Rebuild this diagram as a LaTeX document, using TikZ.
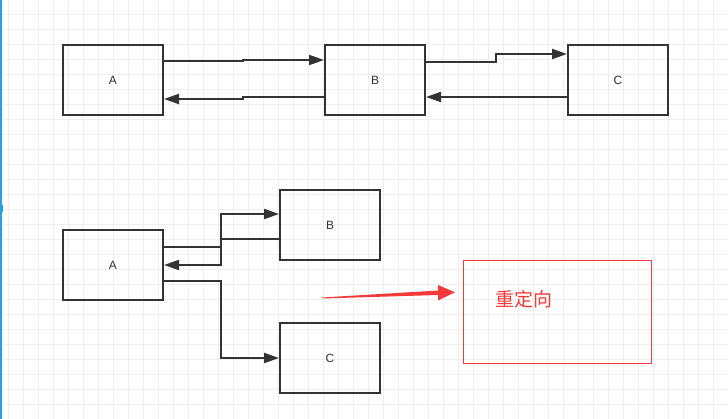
\documentclass[tikz,border=0pt]{standalone}
\usepackage{fontspec}
\setmainfont{Liberation Sans}
\newfontfamily\cjk{Noto Sans CJK SC}
\usetikzlibrary{arrows.meta}
\definecolor{boxline}{HTML}{333333}
\definecolor{gridc}{HTML}{EEEEEE}
\definecolor{redc}{HTML}{F23A3A}
\definecolor{bluec}{HTML}{2AA0E0}
\tikzset{
  box/.style={draw=boxline, line width=2pt, minimum width=100pt, minimum height=70pt, inner sep=0pt, font=\fontsize{12}{12}\selectfont, text=boxline},
  conn/.style={draw=boxline, line width=2pt, -{Triangle[length=15pt,width=10pt]}},
}
\begin{document}
\begin{tikzpicture}[x=1pt,y=-1pt]
\useasboundingbox (0,0) rectangle (728,419);
\fill[white] (0,0) rectangle (728,419);
% grid
\foreach \k in {0,...,48} {\draw[gridc, line width=1pt] ({8.5+15*\k},0) -- ({8.5+15*\k},419);}
\foreach \k in {1,...,28} {\draw[gridc, line width=1pt] (0,{15*\k-0.5}) -- (728,{15*\k-0.5});}
% screenshot edge marks
\draw[bluec, line width=1.5pt] (0.75,0) -- (0.75,419);
\fill[bluec] (0,205) rectangle (3,212);
% top row
\node[box] (A1) at (113,80) {A};
\node[box] (B1) at (375,80) {B};
\node[box] (C1) at (618,80) {C};
\coordinate (a1) at (A1.east |- 0,61);
\coordinate (b1) at (B1.west |- 0,60);
\draw[conn] (a1) -- (243,61) -- (243,60) -- (b1);
\coordinate (b2) at (B1.west |- 0,97);
\coordinate (a2) at (A1.east |- 0,99);
\draw[conn] (b2) -- (243,97) -- (243,99) -- (a2);
\coordinate (b3) at (B1.east |- 0,62);
\coordinate (c3) at (C1.west |- 0,54);
\draw[conn] (b3) -- (496,62) -- (496,54) -- (c3);
\coordinate (c4) at (C1.west |- 0,97);
\coordinate (b4) at (B1.east |- 0,97);
\draw[conn] (c4) -- (b4);
% bottom row
\node[box] (A2) at (113,265) {A};
\node[box] (B2) at (330,225) {B};
\node[box] (C2) at (330,358) {C};
\coordinate (p1) at (A2.east |- 0,247);
\coordinate (q1) at (B2.west |- 0,214);
\draw[conn] (p1) -- (221,247) -- (221,214) -- (q1);
\coordinate (q2) at (B2.west |- 0,239);
\coordinate (p2) at (A2.east |- 0,265);
\draw[conn] (q2) -- (221,239) -- (221,265) -- (p2);
\coordinate (p3) at (A2.east |- 0,281);
\coordinate (q3) at (C2.west |- 0,358);
\draw[conn] (p3) -- (221,281) -- (221,358) -- (q3);
% red redirect
\node[draw=redc, line width=1pt, minimum width=188pt, minimum height=103pt, inner sep=0pt] (R) at (557,312) {};
\node[text=redc, font=\cjk\fontsize{19}{19}\selectfont, inner sep=0pt] (T) at (523.5,299) {重定向};
\fill[redc] (322,297.5) -- (438,290.5) -- (438,285) -- (455,292.3) -- (438,300.5) -- (438,295) -- (322,298.5) -- cycle;
\end{tikzpicture}
\end{document}
